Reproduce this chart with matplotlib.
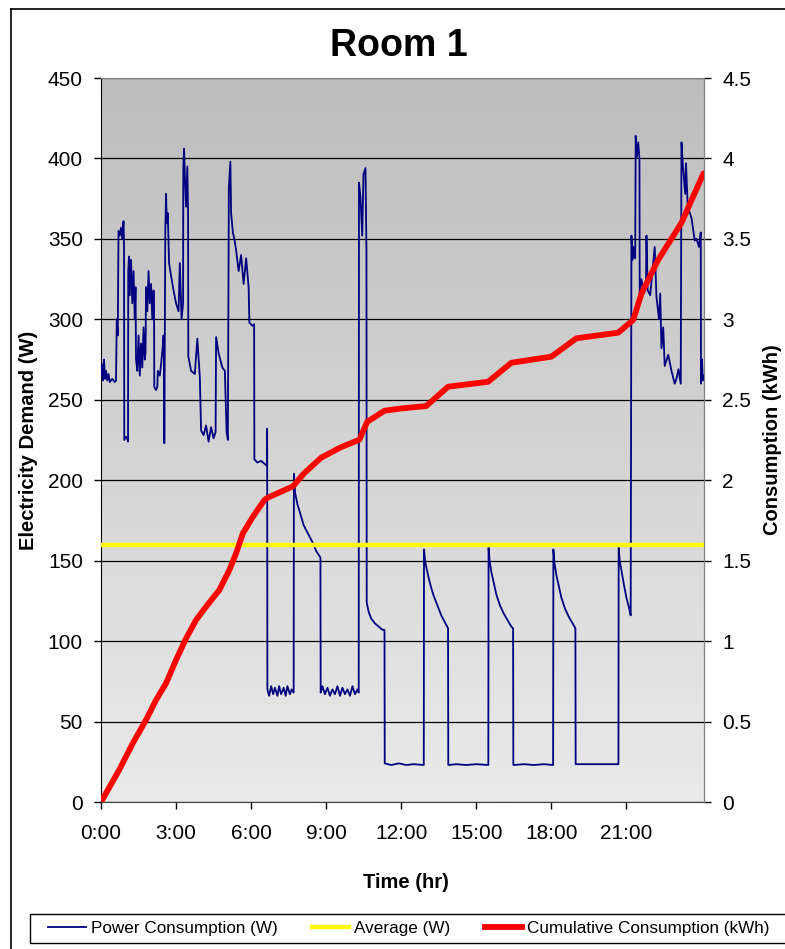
import numpy as np
import matplotlib
matplotlib.use("Agg")
import matplotlib.pyplot as plt
from matplotlib.lines import Line2D
from matplotlib.patches import Rectangle
from matplotlib.colors import LinearSegmentedColormap

plt.rcParams['font.family'] = ['Liberation Sans', 'DejaVu Sans']

# power readings (hour of day, watts)
power_t = [0.00, 0.05, 0.08, 0.12, 0.16, 0.20, 0.25, 0.30, 0.35, 0.45, 0.55, 0.60,
           0.63, 0.67, 0.70, 0.75, 0.80, 0.85, 0.90, 0.92, 0.93, 1.00, 1.05, 1.08,
           1.09, 1.12, 1.15, 1.20, 1.25, 1.30, 1.35, 1.38, 1.40, 1.45, 1.50, 1.55, 1.60, 1.65, 1.70, 1.75, 1.78,
           1.80, 1.85, 1.90, 1.95, 2.00, 2.05, 2.10, 2.12, 2.13, 2.20, 2.25, 2.27, 2.35, 2.40, 2.45, 2.50, 2.52, 2.53,
           2.57, 2.60, 2.63, 2.67, 2.72, 2.80, 2.90, 3.00, 3.10, 3.15, 3.22, 3.28,
           3.29, 3.32, 3.36, 3.40, 3.45, 3.48, 3.49, 3.60, 3.75, 3.85, 3.95, 4.00, 4.10, 4.20, 4.30, 4.40, 4.50, 4.58,
           4.60, 4.70, 4.85, 4.95, 5.02, 5.07,
           5.11, 5.17, 5.20, 5.27, 5.33, 5.40, 5.50, 5.60, 5.70, 5.80, 5.90, 5.93, 6.05, 6.12,
           6.13, 6.25, 6.40, 6.55, 6.63, 6.64,
           6.65, 6.72, 6.80, 6.88, 6.95, 7.05, 7.12, 7.20, 7.30, 7.38, 7.45, 7.55, 7.62, 7.70,
           7.71, 7.76, 7.85, 7.95, 8.10, 8.30, 8.50, 8.60, 8.77,
           8.78, 8.85, 8.95, 9.05, 9.15, 9.25, 9.35, 9.45, 9.55, 9.65, 9.75, 9.85, 9.95, 10.05, 10.15, 10.25, 10.30,
           10.31, 10.37, 10.44, 10.49, 10.57, 10.61,
           10.62, 10.70, 10.80, 10.95, 11.10, 11.25, 11.33,
           11.34, 11.60, 11.90, 12.20, 12.50, 12.90,
           12.91, 12.95, 13.00, 13.10, 13.20, 13.30, 13.45, 13.60, 13.70, 13.80, 13.87,
           13.88, 14.20, 14.60, 15.00, 15.48,
           15.49, 15.53, 15.60, 15.70, 15.80, 15.95, 16.10, 16.25, 16.40, 16.47,
           16.48, 16.90, 17.30, 17.70, 18.07,
           18.08, 18.12, 18.20, 18.30, 18.40, 18.55, 18.70, 18.85, 18.96,
           18.97, 19.50, 20.00, 20.68,
           20.69, 20.73, 20.80, 20.90, 21.00, 21.10, 21.17,
           21.20, 21.25, 21.30, 21.35, 21.37, 21.42, 21.47, 21.52, 21.53, 21.60, 21.70, 21.78, 21.80, 21.85,
           21.95, 22.13, 22.20, 22.30, 22.35, 22.40, 22.47, 22.53, 22.67, 22.80, 22.93, 23.00, 23.08, 23.17,
           23.20, 23.25, 23.35, 23.38, 23.45, 23.60, 23.73, 23.80, 23.90, 23.97,
           23.98, 24.02, 24.05, 24.08]
power_w = [265, 272, 262, 275, 263, 268, 262, 266, 261, 263, 261, 262,
           300, 290, 355, 352, 357, 350, 361, 345, 225, 227, 226, 224,
           330, 339, 315, 337, 310, 330, 300, 320, 275, 268, 290, 265, 285, 270, 295, 275, 280,
           320, 305, 330, 310, 322, 300, 318, 310, 258, 256, 258, 268, 265, 272, 280, 290, 275, 223,
           355, 378, 360, 366, 335, 327, 318, 310, 305, 335, 300, 310,
           395, 406, 385, 370, 395, 366, 277, 268, 266, 288, 264, 231, 228, 234, 224, 233, 226, 230,
           289, 279, 270, 268, 230, 225,
           382, 398, 366, 354, 350, 343, 330, 340, 322, 338, 320, 298, 296, 297,
           213, 211, 212, 210, 209, 232,
           70, 66, 72, 67, 71, 66, 72, 67, 71, 66, 72, 67, 70, 68,
           204, 192, 185, 180, 172, 166, 160, 156, 152,
           68, 72, 67, 71, 66, 70, 67, 72, 66, 71, 67, 70, 66, 72, 67, 70, 68,
           385, 376, 352, 390, 394, 342,
           124, 118, 114, 111, 109, 107, 107,
           24, 23, 24, 23, 23.5, 23,
           157, 150, 146, 139, 133, 128, 122, 116, 113, 110, 108,
           23, 23.5, 23, 23.5, 23,
           158, 150, 143, 136, 129, 122, 117, 113, 109, 108,
           23, 23.5, 23, 23.5, 23,
           157, 149, 141, 134, 127, 120, 115, 111, 108,
           23.5, 23.5, 23.5, 23.5,
           158, 150, 144, 135, 127, 121, 116,
           352, 337, 345, 338, 414, 401, 410, 400, 316, 325, 316, 320, 352, 318,
           315, 345, 314, 300, 316, 282, 295, 271, 278, 268, 260, 263, 269, 260,
           410, 397, 378, 397, 370, 363, 349, 350, 345, 354,
           260, 275, 262, 265]

average_w = 160

# cumulative consumption (hour, kWh)
cum_t = [0.0, 0.73, 1.27, 1.8, 2.2, 2.6, 3.0, 3.4, 3.8, 4.2, 4.73, 5.13, 5.4, 5.67, 6.07,
         6.53, 6.67, 7.67, 8.13, 8.8, 9.6, 10.33, 10.64, 11.33, 12.0, 13.0, 13.87, 15.47,
         16.4, 18.0, 19.0, 20.67, 21.27, 21.6, 22.27, 23.2, 23.6, 24.08]
cum_kwh = [0.0, 0.2, 0.365, 0.51, 0.634, 0.738, 0.883, 1.017, 1.131, 1.214, 1.318, 1.442,
           1.546, 1.67, 1.773, 1.877, 1.892, 1.962, 2.045, 2.14, 2.206, 2.252, 2.363, 2.432,
           2.446, 2.461, 2.581, 2.612, 2.73, 2.768, 2.882, 2.917, 2.996, 3.16, 3.37, 3.60,
           3.74, 3.907]

hour_ticks = [0, 3, 6, 9, 12, 15, 18, 21]
hour_labels = ['0:00', '3:00', '6:00', '9:00', '12:00', '15:00', '18:00', '21:00']
w_ticks = [0, 50, 100, 150, 200, 250, 300, 350, 400, 450]
kwh_ticks = [0, 0.5, 1, 1.5, 2, 2.5, 3, 3.5, 4, 4.5]
kwh_labels = ['0', '0.5', '1', '1.5', '2', '2.5', '3', '3.5', '4', '4.5']

fig = plt.figure(figsize=(7.85, 9.49), dpi=100)
ax = fig.add_axes([101/785, 1-802/949, 603/785, 724/949])

# excel style grey gradient in the plot area
grad = LinearSegmentedColormap.from_list('g', ['#eaeaea', '#bdbdbd'])
ax.imshow(np.linspace(0, 1, 256)[:, None], extent=[0, 1, 0, 1], transform=ax.transAxes,
          cmap=grad, aspect='auto', origin='lower', zorder=0)

ax.plot(power_t, power_w, color='#000080', lw=1.3, zorder=3)
ax.axhline(average_w, color='#ffff00', lw=3.2, zorder=4)

ax.set_xlim(0, 24.1)
ax.set_ylim(0, 450)
ax.set_xticks(hour_ticks)
ax.set_xticklabels(hour_labels)
ax.set_yticks(w_ticks)
ax.yaxis.grid(True, color='black', lw=0.9)
ax.tick_params(axis='both', direction='out', length=5, width=1, labelsize=15)
ax.tick_params(axis='x', pad=11)
ax.tick_params(axis='y', pad=8)
for s in ['top', 'right']:
    ax.spines[s].set_color('#808080')
ax.spines['left'].set_color('black')
ax.spines['bottom'].set_color('#404040')

ax2 = ax.twinx()
ax2.plot(cum_t, cum_kwh, color='#ff0000', lw=4.2, solid_capstyle='round',
         solid_joinstyle='round', zorder=5)
ax2.set_ylim(0, 4.5)
ax2.set_yticks(kwh_ticks)
ax2.set_yticklabels(kwh_labels)
ax2.tick_params(axis='y', direction='out', length=5, width=1, labelsize=15, pad=8)
ax2.spines['right'].set_color('#808080')
for s in ['top', 'left', 'bottom']:
    ax2.spines[s].set_visible(False)

fig.text(399/785, 1-46/949, 'Room 1', ha='center', va='center', fontsize=27, fontweight='bold')
fig.text(29/785, 1-440/949, 'Electricity Demand (W)', rotation=90, ha='center', va='center',
         fontsize=14.5, fontweight='bold')
fig.text(773/785, 1-440/949, 'Consumption (kWh)', rotation=90, ha='center', va='center',
         fontsize=14.5, fontweight='bold')
fig.text(406/785, 1-883/949, 'Time (hr)', ha='center', va='center', fontsize=14.5, fontweight='bold')

# chart area border (runs off the right and bottom edges)
fig.add_artist(Line2D([11/785, 11/785], [0, 1-9/949], transform=fig.transFigure, color='black', lw=1.2))
fig.add_artist(Line2D([11/785, 1], [1-9/949, 1-9/949], transform=fig.transFigure, color='black', lw=1.2))

# legend frame runs past the right edge like the original
fig.add_artist(Rectangle((30/785, 1-943/949), 780/785, 29/949, transform=fig.transFigure,
                         facecolor='white', edgecolor='black', lw=1.0, zorder=1))
handles = [Line2D([], [], color='#000080', lw=1.3),
           Line2D([], [], color='#ffff00', lw=3.2),
           Line2D([], [], color='#ff0000', lw=4.2)]
labels = ['Power Consumption (W)', 'Average (W)', 'Cumulative Consumption (kWh)']
leg = fig.legend(handles, labels, loc='center left', bbox_to_anchor=(48/785, 1-928.5/949), ncol=3,
                 fontsize=12.3, frameon=False, handlelength=2.2, handletextpad=0.3,
                 columnspacing=2.0, borderpad=0, borderaxespad=0)
leg.set_zorder(2)

fig.savefig('out.png', dpi=100)
